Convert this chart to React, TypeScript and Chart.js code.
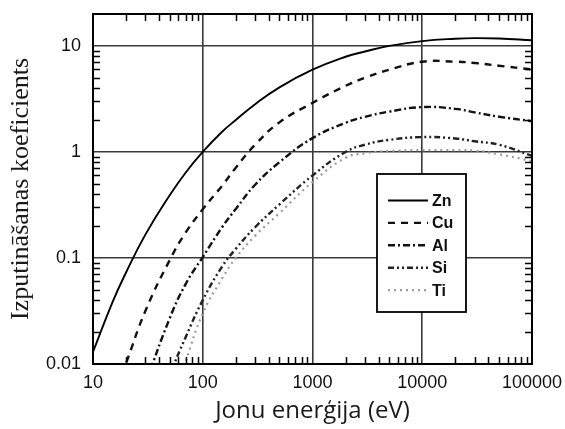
import React, { useEffect, useRef } from 'react';
import { Chart, registerables } from 'chart.js';

Chart.register(...registerables);

const energies = [10, 15, 20, 30, 50, 70, 100, 150, 200, 300, 500, 1000, 2000, 3000, 5000, 10000, 20000, 30000, 50000, 100000];
const zn = [0.013, 0.038, 0.073, 0.166, 0.39, 0.64, 1.0, 1.55, 2.0, 2.82, 4.07, 5.97, 7.9, 8.85, 10.0, 11.1, 11.7, 11.85, 11.75, 11.3];
const cu = [null, 0.0047, 0.0102, 0.0316, 0.0955, 0.174, 0.288, 0.48, 0.71, 1.17, 1.9, 2.9, 4.2, 5.0, 5.96, 7.1, 7.1, 6.9, 6.5, 6.0];
const al = [null, null, null, 0.0065, 0.027, 0.057, 0.102, 0.195, 0.29, 0.49, 0.8, 1.35, 1.88, 2.14, 2.4, 2.65, 2.55, 2.36, 2.15, 1.95];
const si = [null, null, null, null, 0.008, 0.018, 0.04, 0.083, 0.122, 0.195, 0.32, 0.6, 1.0, 1.17, 1.3, 1.38, 1.34, 1.26, 1.17, 0.92];
const ti = [null, null, null, null, 0.004, 0.0107, 0.03, 0.064, 0.1, 0.162, 0.265, 0.52, 0.88, 0.97, 1.02, 1.04, 1.04, 1.03, 0.95, 0.82];

const seriesLabels = ['Zn', 'Cu', 'Al', 'Si', 'Ti'];
const seriesValues = [zn, cu, al, si, ti];
const seriesColors = ['#000000', '#111111', '#111111', '#222222', '#9a9a9a'];
const seriesDashes: number[][] = [[], [7, 6], [7, 3, 2, 3], [6, 3, 2, 3, 2, 3], [2, 4]];
const seriesWidths = [1.9, 2.4, 2.4, 2.4, 2.2];

const X_MIN = 10;
const X_MAX = 100000;
const Y_MIN = 0.01;
const Y_MAX = 20;

const isDecade = (v: number) => {
  const l = Math.log10(v);
  return Math.abs(l - Math.round(l)) < 1e-9;
};

const framePlugin = {
  id: 'framePlugin',
  afterDatasetsDraw(chart: any) {
    const { ctx, chartArea: a, scales } = chart;
    const xs = scales.x;
    const ys = scales.y;
    ctx.save();
    ctx.strokeStyle = '#000';
    ctx.lineWidth = 1.5;
    const len = 7;
    for (let k = Math.log10(X_MIN); k < Math.log10(X_MAX); k++) {
      for (let m = 2; m <= 9; m++) {
        const v = m * Math.pow(10, k);
        const px = Math.round(xs.getPixelForValue(v)) + 0.5;
        ctx.beginPath();
        ctx.moveTo(px, a.bottom);
        ctx.lineTo(px, a.bottom - len);
        ctx.moveTo(px, a.top);
        ctx.lineTo(px, a.top + len);
        ctx.stroke();
      }
    }
    for (let k = Math.log10(Y_MIN); k <= Math.log10(Y_MAX); k++) {
      for (let m = 2; m <= 9; m++) {
        const v = m * Math.pow(10, k);
        if (v >= Y_MAX) continue;
        const py = Math.round(ys.getPixelForValue(v)) + 0.5;
        ctx.beginPath();
        ctx.moveTo(a.left, py);
        ctx.lineTo(a.left + len, py);
        ctx.moveTo(a.right, py);
        ctx.lineTo(a.right - len, py);
        ctx.stroke();
      }
    }
    ctx.lineWidth = 2;
    ctx.strokeRect(a.left, a.top, a.right - a.left, a.bottom - a.top);
    ctx.restore();
  },
  afterDraw(chart: any) {
    const { ctx, chartArea: a } = chart;
    const left = a.right - 155;
    const right = a.right - 66;
    const top = a.top + 160;
    const bottom = top + 138;
    ctx.save();
    ctx.fillStyle = '#fff';
    ctx.fillRect(left, top, right - left, bottom - top);
    ctx.strokeStyle = '#000';
    ctx.lineWidth = 1.8;
    ctx.strokeRect(left, top, right - left, bottom - top);
    ctx.font = "bold 16px 'Liberation Sans', Arial, sans-serif";
    ctx.textBaseline = 'middle';
    ctx.textAlign = 'left';
    chart.data.datasets.forEach((ds: any, i: number) => {
      const y = top + 26.5 + i * 22.4;
      ctx.beginPath();
      ctx.setLineDash(ds.borderDash || []);
      ctx.strokeStyle = ds.borderColor;
      ctx.lineWidth = ds.borderWidth;
      ctx.moveTo(left + 11, y);
      ctx.lineTo(left + 51, y);
      ctx.stroke();
      ctx.setLineDash([]);
      ctx.fillStyle = '#111';
      ctx.fillText(ds.label, left + 55, y + 1);
    });
    ctx.restore();
  },
};

export default function App() {
  const canvasRef = useRef<HTMLCanvasElement | null>(null);

  useEffect(() => {
    if (!canvasRef.current) return;
    const datasets = seriesLabels.map((label, i) => ({
      label,
      data: energies
        .map((e, j) => ({ x: e, y: seriesValues[i][j] }))
        .filter((p) => p.y !== null),
      borderColor: seriesColors[i],
      borderDash: seriesDashes[i],
      borderWidth: seriesWidths[i],
      pointRadius: 0,
      fill: false,
      tension: 0.45,
    }));

    const tickFont = { family: "'Liberation Sans', Arial, sans-serif", size: 18 };

    const chart = new Chart(canvasRef.current, {
      type: 'line',
      data: { datasets },
      options: {
        responsive: false,
        animation: false,
        layout: { padding: { top: 14, right: 33, left: 0, bottom: 0 } },
        plugins: {
          legend: { display: false },
          tooltip: { enabled: false },
        },
        scales: {
          x: {
            type: 'logarithmic',
            min: X_MIN,
            max: X_MAX,
            afterFit: (s: any) => {
              s.height = 65;
              s.paddingLeft = 0;
              s.paddingRight = 0;
            },
            grid: {
              color: (c: any) => (c.tick && isDecade(c.tick.value) ? '#3a3a3a' : 'rgba(0,0,0,0)'),
              lineWidth: 1.6,
              drawTicks: false,
            },
            border: { display: true, color: '#000', width: 2 },
            ticks: {
              autoSkip: false,
              maxRotation: 0,
              padding: 8,
              color: '#111',
              font: tickFont,
              callback: (v: any) => (isDecade(Number(v)) ? String(Number(v)) : ''),
            },
            title: {
              display: true,
              text: 'Jonu enerģija (eV)',
              color: '#1a1a1a',
              font: { family: "'Open Sans', sans-serif", size: 24 },
              padding: { top: 0, bottom: 3 },
            },
          },
          y: {
            type: 'logarithmic',
            min: Y_MIN,
            max: Y_MAX,
            afterFit: (s: any) => {
              s.width = 93;
              s.paddingTop = 0;
              s.paddingBottom = 0;
            },
            grid: {
              color: (c: any) => (c.tick && isDecade(c.tick.value) ? '#3a3a3a' : 'rgba(0,0,0,0)'),
              lineWidth: 1.6,
              drawTicks: false,
            },
            border: { display: true, color: '#000', width: 2 },
            ticks: {
              autoSkip: false,
              padding: 12,
              color: '#111',
              font: tickFont,
              callback: (v: any) => (isDecade(Number(v)) ? String(Number(v)) : ''),
            },
            title: {
              display: true,
              text: 'Izputināšanas koeficients',
              color: '#1a1a1a',
              font: { family: "'Liberation Serif', 'Times New Roman', serif", size: 26 },
              padding: { top: 6, bottom: 0 },
            },
          },
        },
      },
      plugins: [framePlugin],
    });
    return () => chart.destroy();
  }, []);

  return (
    <div style={{ position: 'absolute', left: 0, top: 0, width: 565, height: 429, background: '#fff' }}>
      <canvas ref={canvasRef} width={565} height={429} style={{ display: 'block' }} />
    </div>
  );
}
